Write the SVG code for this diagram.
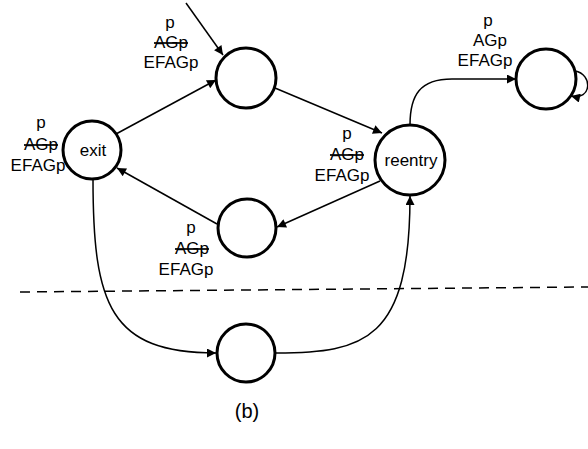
<svg xmlns="http://www.w3.org/2000/svg" width="588" height="449" viewBox="0 0 588 449">
  <style>
    .state { fill: #fff; stroke: #000; stroke-width: 3; }
    .edge { fill: none; stroke: #000; stroke-width: 1.5; marker-end: url(#arrow); }
    .lbl { font-family: "Liberation Sans", Arial, sans-serif; font-size: 17px; fill: #000; text-anchor: middle; }
    .neg { text-decoration: line-through; }
  </style>
  <defs>
    <marker id="arrow" viewBox="0 0 10 10" refX="10" refY="5" markerWidth="11" markerHeight="9" markerUnits="userSpaceOnUse" orient="auto">
      <path d="M0,0 L10,5 L0,10 z" fill="#000"/>
    </marker>
  </defs>
  <rect width="588" height="449" fill="#fff"/>

  <g id="connectors">
    <line class="edge" x1="186" y1="3" x2="223" y2="55"/>
    <line class="edge" x1="116" y1="134" x2="216" y2="80"/>
    <line class="edge" x1="275" y1="88" x2="382" y2="133"/>
    <line class="edge" x1="380" y1="181" x2="277" y2="227"/>
    <line class="edge" x1="217" y1="224" x2="117" y2="168"/>
    <path class="edge" d="M93,179 C93,305 110,353 216,353"/>
    <path class="edge" d="M276,353 C365,353 410,340 410,196"/>
    <path class="edge" d="M410,125 C410,95 420,79 452,79 L516,79"/>
    <path class="edge" d="M575,71 C593,74 592,101 571,96"/>
    <line x1="20" y1="292" x2="588" y2="287" stroke="#000" stroke-width="1.5" stroke-dasharray="10,7"/>
  </g>

  <g id="n-top">
    <circle class="state" cx="246" cy="78" r="30"/>
    <text class="lbl" x="170" y="28">p</text>
    <text class="lbl neg" x="171" y="48">AGp</text>
    <text class="lbl" x="171" y="68">EFAGp</text>
  </g>

  <g id="n-exit">
    <circle class="state" cx="92" cy="150" r="29"/>
    <text class="lbl" x="93" y="156">exit</text>
    <text class="lbl" x="41" y="128">p</text>
    <text class="lbl neg" x="41" y="150">AGp</text>
    <text class="lbl" x="38" y="171">EFAGp</text>
  </g>

  <g id="n-reentry">
    <circle class="state" cx="410" cy="160" r="35"/>
    <text class="lbl" x="411" y="166">reentry</text>
    <text class="lbl" x="347" y="139">p</text>
    <text class="lbl neg" x="347" y="160">AGp</text>
    <text class="lbl" x="342" y="181">EFAGp</text>
  </g>

  <g id="n-mid">
    <circle class="state" cx="247" cy="228" r="29"/>
    <text class="lbl" x="191" y="233">p</text>
    <text class="lbl neg" x="192" y="254">AGp</text>
    <text class="lbl" x="186" y="275">EFAGp</text>
  </g>

  <g id="n-bottom">
    <circle class="state" cx="246" cy="353" r="29"/>
  </g>

  <g id="n-topright">
    <circle class="state" cx="546" cy="79" r="30"/>
    <text class="lbl" x="488" y="26">p</text>
    <text class="lbl" x="490" y="46">AGp</text>
    <text class="lbl" x="485" y="66">EFAGp</text>
  </g>

  <text class="lbl" x="247" y="418" style="font-size:20px">(b)</text>
</svg>
